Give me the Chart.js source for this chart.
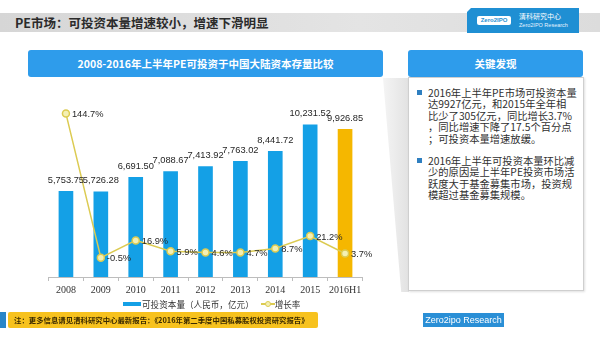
<!DOCTYPE html>
<html>
<head>
<meta charset="utf-8">
<script src="https://cdn.jsdelivr.net/npm/chart.js@4"></script>
<style>
  html, body { margin: 0; padding: 0; background: #fff; }
  body { width: 600px; height: 338px; position: relative; overflow: hidden; font-family: "Noto Sans CJK SC", "Noto Sans", sans-serif; }
  .abs { position: absolute; }
  #topband { left: 0; top: 13px; width: 600px; height: 19px; background: linear-gradient(90deg, #d6d6d6, #e4e4e4 60%, #dcdcdc); }
  #pageTitle { left: 15px; top: 12px; font-size: 12.5px; font-weight: bold; color: #2b2b2b; line-height: 21px; white-space: nowrap; }
  #logo { left: 467px; top: 8px; width: 112px; height: 25px; background: #1f8fd3; clip-path: polygon(4px 0, 100% 0, 100% 100%, 0 100%, 0 4px); }
  #logoMark { left: 10px; top: 8px; width: 34px; height: 9px; background: #fff; border-radius: 2px; font: bold 6px "Liberation Sans", sans-serif; color: #1f8fd3; text-align: center; line-height: 9px; }
  #logoText1 { left: 52px; top: 3px; font-size: 7px; color: #fff; line-height: 10px; white-space: nowrap; }
  #logoText2 { left: 52px; top: 13px; font: 5.5px "Liberation Sans", sans-serif; color: #e6f3ff; line-height: 8px; white-space: nowrap; }
  .bluebar { background: #2e9ceb; border-radius: 3px; color: #fff; font-weight: bold; text-align: center; }
  #chartTitle { left: 28px; top: 50px; width: 355px; height: 27px; line-height: 27px; font-size: 10.5px; }
  #findTitle { left: 408px; top: 50px; width: 175px; height: 27px; line-height: 27px; font-size: 10.5px; }
  #wedge { left: 383px; top: 78px; width: 26px; height: 214px; background: linear-gradient(90deg, #f4f4f4, #e2e2e2); clip-path: polygon(0 0, 100% 0, 100% 100%, 70% 100%); }
  #findBox { left: 408px; top: 77px; width: 174px; height: 212px; background: #fff; border: 1px solid #cfcfcf; box-shadow: 1px 1px 2px rgba(0,0,0,0.12); }
  .para { position: absolute; left: 19px; font-size: 10.3px; line-height: 11.4px; color: #303030; white-space: nowrap; }
  .bullet { position: absolute; left: -11px; top: 3px; width: 5px; height: 5px; background: #2f7fc0; }
  #p1 { top: 9px; }
  #p2 { top: 77px; }
  #chartWrap { left: 20px; top: 78px; width: 365px; height: 222px; }
  #legend { left: 123px; top: 296px; font-size: 8.6px; color: #333; line-height: 12px; white-space: nowrap; }
  #legend span { display: inline-block; vertical-align: middle; }
  #note { left: 8px; top: 312px; width: 310px; height: 16px; background: #f7c21e; border-radius: 2px; font-size: 7.4px; font-weight: bold; color: #3a2a00; line-height: 16px; white-space: nowrap; padding-left: 6px; box-sizing: border-box; }
  #noteMark { left: 0; top: 312px; width: 6px; height: 16px; background: #2a86c8; }
  #brand { left: 423px; top: 313px; width: 81px; height: 14px; background: #2a8fd6; color: #fff; font: 9px "Liberation Sans", sans-serif; text-align: center; line-height: 14px; }
</style>
</head>
<body>
<div id="topband" class="abs"></div>
<div id="pageTitle" class="abs">PE市场：可投资本量增速较小，增速下滑明显</div>
<div id="logo" class="abs">
  <div id="logoMark" class="abs">Zero2IPO</div>
  <div id="logoText1" class="abs">清科研究中心</div>
  <div id="logoText2" class="abs">Zero2IPO Research</div>
</div>

<div id="chartTitle" class="abs bluebar">2008-2016年上半年PE可投资于中国大陆资本存量比较</div>
<div id="findTitle" class="abs bluebar">关键发现</div>
<div id="wedge" class="abs"></div>
<div id="findBox" class="abs">
  <div id="p1" class="para"><div class="bullet"></div>2016年上半年PE市场可投资本量<br>达9927亿元，和2015年全年相<br>比少了305亿元，同比增长3.7%<br>，同比增速下降了17.5个百分点<br>；可投资本量增速放缓。</div>
  <div id="p2" class="para"><div class="bullet"></div>2016年上半年可投资本量环比减<br>少的原因是上半年PE投资市场活<br>跃度大于基金募集市场，投资规<br>模超过基金募集规模。</div>
</div>

<div id="chartWrap" class="abs"><canvas id="chart"></canvas></div>

<div id="legend" class="abs">
  <span style="width:18px;height:4px;background:#14a0e6;margin-right:1px;"></span><span>可投资本量（人民币，亿元）</span>
  <span style="position:relative;width:14px;height:8px;margin-left:5px;">
    <span style="position:absolute;left:0;top:3.5px;width:14px;height:1.5px;background:#dccb52;"></span>
    <span style="position:absolute;left:4px;top:1px;width:4px;height:4px;border:1.2px solid #dccb52;border-radius:50%;background:#f4f0b4;"></span>
  </span><span>增长率</span>
</div>

<div id="noteMark" class="abs"></div>
<div id="note" class="abs">注：更多信息请见清科研究中心最新报告：《2016年第二季度中国私募股权投资研究报告》</div>
<div id="brand" class="abs">Zero2ipo Research</div>

<script>
const years = ['2008', '2009', '2010', '2011', '2012', '2013', '2014', '2015', '2016H1'];
const capital = [5753.75, 5726.28, 6691.50, 7088.67, 7413.92, 7763.02, 8441.72, 10231.52, 9926.85];
const growth = [144.7, -0.5, 16.9, 5.9, 4.6, 4.7, 8.7, 21.2, 3.7];
const capitalLabels = ['5,753.75', '5,726.28', '6,691.50', '7,088.67', '7,413.92', '7,763.02', '8,441.72', '10,231.52', '9,926.85'];
const growthLabels = ['144.7%', '-0.5%', '16.9%', '5.9%', '4.6%', '4.7%', '8.7%', '21.2%', '3.7%'];

const barColors = years.map((y, i) => i === years.length - 1 ? '#f5b700' : '#14a0e6');

// 標籤繪製
const labelPlugin = {
  id: 'valueLabels',
  afterDatasetsDraw(chart) {
    const ctx = chart.ctx;
    ctx.save();
    ctx.font = '9.3px "Liberation Sans", Arial, sans-serif';
    ctx.fillStyle = '#262626';
    chart.getDatasetMeta(1).data.forEach((bar, i) => {
      ctx.textAlign = 'center';
      ctx.textBaseline = 'middle';
      ctx.fillText(capitalLabels[i], bar.x, bar.y - 11);
    });
    chart.getDatasetMeta(0).data.forEach((pt, i) => {
      ctx.textAlign = 'left';
      ctx.textBaseline = 'middle';
      ctx.fillText(growthLabels[i], pt.x + 6, pt.y + 1);
    });
    ctx.restore();
  }
};

new Chart(document.getElementById('chart'), {
  type: 'bar',
  data: {
    labels: years,
    datasets: [{
      type: 'line',
      label: '增长率',
      data: growth,
      yAxisID: 'y1',
      borderColor: '#dccb52',
      borderWidth: 1.5,
      pointRadius: 3.5,
      pointBorderWidth: 1.5,
      pointBackgroundColor: '#f4f0b4',
      pointBorderColor: '#dccb52',
      tension: 0,
      order: 0
    }, {
      label: '可投资本量（人民币，亿元）',
      data: capital,
      yAxisID: 'y',
      backgroundColor: barColors,
      barThickness: 14,
      order: 1
    }]
  },
  options: {
    responsive: true,
    maintainAspectRatio: false,
    animation: false,
    events: [],
    layout: { padding: { left: 28.5, right: 22.5, top: 4, bottom: 3 } },
    plugins: { legend: { display: false }, tooltip: { enabled: false } },
    scales: {
      x: {
        grid: { display: true, drawOnChartArea: false, drawTicks: true, tickLength: 4, color: '#bdbdbd', offset: true },
        border: { display: true, color: '#bdbdbd' },
        ticks: { padding: 3, color: '#333', autoSkip: false, maxRotation: 0, minRotation: 0, font: { family: '"Liberation Serif", serif', size: 10 } },
        afterFit: s => { s.height = 20; }
      },
      y: { display: false, min: 0, max: 13000 },
      y1: { display: false, min: -20, max: 175 }
    }
  },
  plugins: [labelPlugin]
});
</script>
</body>
</html>
